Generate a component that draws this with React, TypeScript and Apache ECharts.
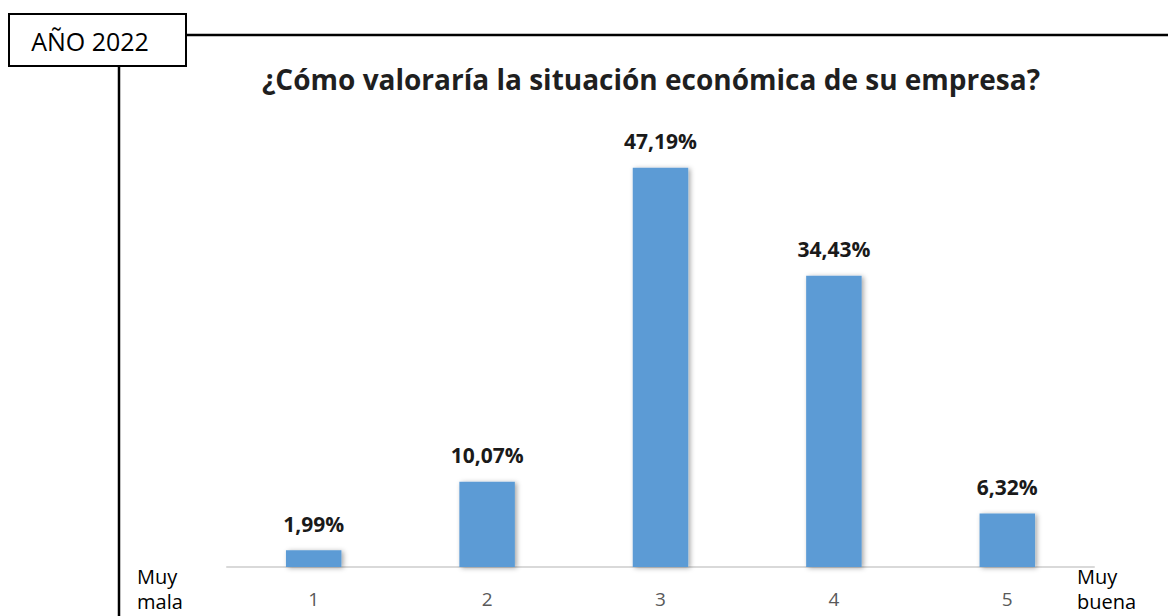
import React, { useEffect, useRef } from "react";
import * as echarts from "echarts";

const categories = ["1", "2", "3", "4", "5"];
const values = [1.99, 10.07, 47.19, 34.43, 6.32];
const title = "¿Cómo valoraría la situación económica de su empresa?";
const yearLabel = "AÑO 2022";
const leftEndLabel = ["Muy", "mala"];
const rightEndLabel = ["Muy", "buena"];

const FONT = "'Open Sans', 'Noto Sans', sans-serif";

export default function App() {
  const ref = useRef<HTMLDivElement>(null);
  useEffect(() => {
    if (!ref.current) return;
    const chart = echarts.init(ref.current, null, { renderer: "svg" });
    const endText = (x: number, y: number, text: string) => ({
      type: "text",
      x,
      y,
      style: {
        text,
        fill: "#000",
        font: `20px ${FONT}`,
        align: "left",
        verticalAlign: "middle",
      },
    });
    chart.setOption({
      animation: false,
      backgroundColor: "#ffffff",
      grid: { left: 227, right: 74, top: 144, bottom: 49, containLabel: false },
      xAxis: {
        type: "category",
        data: categories,
        axisLine: { lineStyle: { color: "#d9d9d9", width: 2 } },
        axisTick: { show: false },
        axisLabel: { color: "#595959", fontSize: 19, fontFamily: FONT, margin: 22 },
      },
      yAxis: {
        type: "value",
        min: 0,
        max: 50,
        show: false,
        splitLine: { show: false },
      },
      series: [
        {
          type: "bar",
          data: values,
          barWidth: "32%",
          itemStyle: {
            color: "#5b9bd5",
            shadowBlur: 5,
            shadowColor: "rgba(0,0,0,0.35)",
            shadowOffsetX: 2,
            shadowOffsetY: 1,
          },
          label: {
            show: true,
            position: "top",
            distance: 16,
            color: "#1a1a1a",
            fontWeight: "bold",
            fontSize: 21,
            fontFamily: FONT,
            formatter: (p: any) => p.value.toFixed(2).replace(".", ",") + "%",
          },
        },
      ],
      graphic: [
        {
          type: "line",
          shape: { x1: 186, y1: 35, x2: 1168, y2: 35 },
          style: { stroke: "#000", lineWidth: 2.5 },
        },
        {
          type: "line",
          shape: { x1: 119, y1: 66, x2: 119, y2: 616 },
          style: { stroke: "#000", lineWidth: 2.5 },
        },
        {
          type: "rect",
          shape: { x: 9, y: 14, width: 177, height: 52 },
          style: { fill: "#fff", stroke: "#000", lineWidth: 2 },
        },
        {
          type: "text",
          x: 90,
          y: 41,
          style: {
            text: yearLabel,
            fill: "#000",
            font: `25px ${FONT}`,
            align: "center",
            verticalAlign: "middle",
          },
        },
        {
          type: "text",
          x: 651,
          y: 79,
          style: {
            text: title,
            fill: "#1f1f1f",
            font: `bold 28px ${FONT}`,
            align: "center",
            verticalAlign: "middle",
          },
        },
        endText(137, 576, leftEndLabel[0]),
        endText(137, 601, leftEndLabel[1]),
        endText(1077, 576, rightEndLabel[0]),
        endText(1077, 601, rightEndLabel[1]),
      ],
    });
    return () => chart.dispose();
  }, []);
  return (
    <div
      ref={ref}
      style={{ position: "absolute", left: 0, top: 0, width: 1168, height: 616 }}
    />
  );
}
